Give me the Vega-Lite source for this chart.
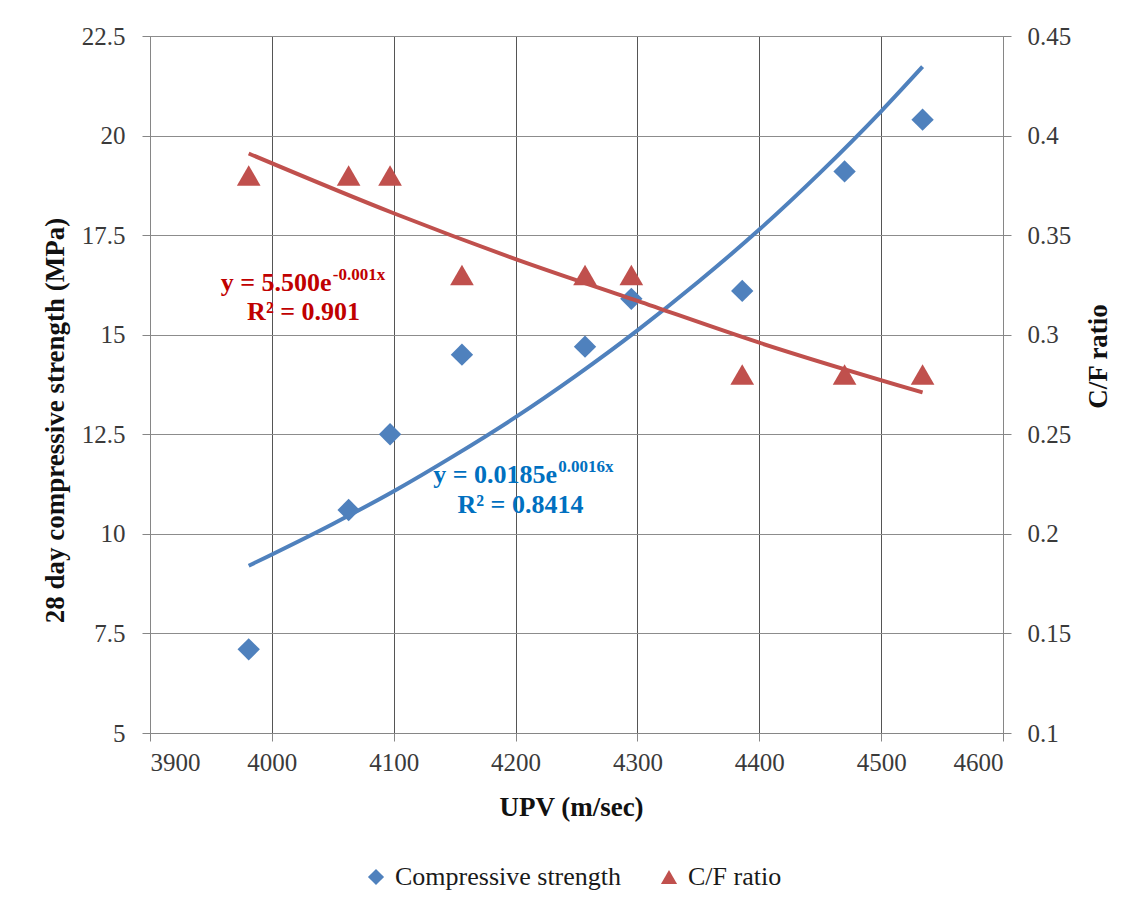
{
  "$schema": "https://vega.github.io/schema/vega-lite/v6.json",
  "autosize": {"type": "none"},
  "width": 853,
  "height": 697,
  "padding": {"left": 150, "top": 36, "right": 134, "bottom": 182},
  "background": "white",
  "config": {
    "view": {"stroke": null},
    "font": "Liberation Serif",
    "axis": {
      "labelFont": "Liberation Serif",
      "labelFontSize": 25,
      "labelColor": "#3a3a3a",
      "titleFont": "Liberation Serif",
      "titleFontSize": 27,
      "titleFontWeight": "bold",
      "titleColor": "#111111",
      "domainColor": "#868686",
      "tickColor": "#868686",
      "tickSize": 8,
      "gridWidth": 1
    },
    "legend": {
      "labelFont": "Liberation Serif",
      "labelFontSize": 26,
      "labelColor": "#1a1a1a",
      "labelLimit": 0
    }
  },
  "datasets": {
    "strength": [
      {"upv": 3981, "value": 7.1, "series": "Compressive strength"},
      {"upv": 4063, "value": 10.6, "series": "Compressive strength"},
      {"upv": 4097, "value": 12.5, "series": "Compressive strength"},
      {"upv": 4156, "value": 14.5, "series": "Compressive strength"},
      {"upv": 4257, "value": 14.7, "series": "Compressive strength"},
      {"upv": 4295, "value": 15.9, "series": "Compressive strength"},
      {"upv": 4386, "value": 16.1, "series": "Compressive strength"},
      {"upv": 4470, "value": 19.1, "series": "Compressive strength"},
      {"upv": 4534, "value": 20.4, "series": "Compressive strength"}
    ],
    "cf": [
      {"upv": 3981, "value": 0.38, "series": "C/F ratio"},
      {"upv": 4063, "value": 0.38, "series": "C/F ratio"},
      {"upv": 4097, "value": 0.38, "series": "C/F ratio"},
      {"upv": 4156, "value": 0.33, "series": "C/F ratio"},
      {"upv": 4257, "value": 0.33, "series": "C/F ratio"},
      {"upv": 4295, "value": 0.33, "series": "C/F ratio"},
      {"upv": 4386, "value": 0.28, "series": "C/F ratio"},
      {"upv": 4470, "value": 0.28, "series": "C/F ratio"},
      {"upv": 4534, "value": 0.28, "series": "C/F ratio"}
    ],
    "strengthTrend": [
      {"upv": 3981, "value": 9.2},
      {"upv": 4050, "value": 10.25},
      {"upv": 4100, "value": 11.07},
      {"upv": 4150, "value": 11.97},
      {"upv": 4200, "value": 12.93},
      {"upv": 4250, "value": 13.98},
      {"upv": 4300, "value": 15.11},
      {"upv": 4350, "value": 16.33},
      {"upv": 4400, "value": 17.64},
      {"upv": 4450, "value": 19.07},
      {"upv": 4500, "value": 20.61},
      {"upv": 4534, "value": 21.73}
    ],
    "cfTrend": [
      {"upv": 3981, "value": 0.391},
      {"upv": 4100, "value": 0.361},
      {"upv": 4200, "value": 0.338},
      {"upv": 4300, "value": 0.317},
      {"upv": 4400, "value": 0.296},
      {"upv": 4534, "value": 0.271}
    ]
  },
  "layer": [
    {
      "layer": [
        {
          "data": {"name": "strength"},
          "mark": {"type": "point", "filled": true, "size": 500, "opacity": 1},
          "encoding": {
            "x": {
              "field": "upv",
              "type": "quantitative",
              "scale": {"domain": [3900, 4600], "nice": false, "zero": false},
              "axis": {
                "title": "UPV (m/sec)",
                "values": [3900, 4000, 4100, 4200, 4300, 4400, 4500, 4600],
                "format": "d",
                "grid": true,
                "gridColor": "#555555",
                "labelFont": "Liberation Serif",
                "labelPadding": 9,
                "titleX": 421,
                "titleY": 74,
                "titleBaseline": "middle",
                "titleAlign": "center"
              }
            },
            "y": {
              "field": "value",
              "type": "quantitative",
              "scale": {"domain": [5, 22.5], "nice": false, "zero": false},
              "axis": {
                "orient": "left",
                "title": "28 day compressive strength (MPa)",
                "values": [5, 7.5, 10, 12.5, 15, 17.5, 20, 22.5],
                "labelExpr": "'' + datum.value",
                "grid": true,
                "gridColor": "#8c8c8c",
                "labelFont": "Liberation Serif",
                "labelPadding": 17,
                "titleAngle": 270,
                "titleX": -95,
                "titleY": 384,
                "titleBaseline": "middle",
                "titleAlign": "center"
              }
            },
            "color": {
              "field": "series",
              "type": "nominal",
              "scale": {"domain": ["Compressive strength", "C/F ratio"], "range": ["#4F81BD", "#C0504D"]},
              "legend": {
                "title": null,
                "orient": "none",
                "direction": "horizontal",
                "legendX": 213,
                "legendY": 828,
                "symbolSize": 260,
                "symbolStrokeWidth": 0,
                "labelOffset": 6,
                "columnPadding": 34,
                "labelFont": "Liberation Serif",
                "labelLimit": 0
              }
            },
            "shape": {
              "field": "series",
              "type": "nominal",
              "scale": {"domain": ["Compressive strength", "C/F ratio"], "range": ["diamond", "triangle-up"]}
            }
          }
        },
        {
          "data": {"name": "strengthTrend"},
          "mark": {"type": "line", "color": "#4F81BD", "strokeWidth": 4, "interpolate": "monotone"},
          "encoding": {
            "x": {"field": "upv", "type": "quantitative"},
            "y": {"field": "value", "type": "quantitative"}
          }
        },
        {
          "data": {"values": [{"label": "y = 5.500e"}]},
          "mark": {"type": "text", "font": "Liberation Serif", "fontWeight": "bold", "fontSize": 26, "color": "#C00000", "align": "right", "baseline": "middle"},
          "encoding": {"x": {"datum": 4049, "type": "quantitative"}, "y": {"datum": 16.3, "type": "quantitative"}, "text": {"field": "label"}}
        },
        {
          "data": {"values": [{"label": "-0.001x"}]},
          "mark": {"type": "text", "font": "Liberation Serif", "fontWeight": "bold", "fontSize": 17, "color": "#C00000", "align": "left", "baseline": "middle"},
          "encoding": {"x": {"datum": 4050, "type": "quantitative"}, "y": {"datum": 16.5, "type": "quantitative"}, "text": {"field": "label"}}
        },
        {
          "data": {"values": [{"label": "R² = 0.901"}]},
          "mark": {"type": "text", "font": "Liberation Serif", "fontWeight": "bold", "fontSize": 26, "color": "#C00000", "align": "center", "baseline": "middle"},
          "encoding": {"x": {"datum": 4026, "type": "quantitative"}, "y": {"datum": 15.57, "type": "quantitative"}, "text": {"field": "label"}}
        },
        {
          "data": {"values": [{"label": "y = 0.0185e"}]},
          "mark": {"type": "text", "font": "Liberation Serif", "fontWeight": "bold", "fontSize": 26, "color": "#0070C0", "align": "right", "baseline": "middle"},
          "encoding": {"x": {"datum": 4234, "type": "quantitative"}, "y": {"datum": 11.48, "type": "quantitative"}, "text": {"field": "label"}}
        },
        {
          "data": {"values": [{"label": "0.0016x"}]},
          "mark": {"type": "text", "font": "Liberation Serif", "fontWeight": "bold", "fontSize": 17, "color": "#0070C0", "align": "left", "baseline": "middle"},
          "encoding": {"x": {"datum": 4235, "type": "quantitative"}, "y": {"datum": 11.68, "type": "quantitative"}, "text": {"field": "label"}}
        },
        {
          "data": {"values": [{"label": "R² = 0.8414"}]},
          "mark": {"type": "text", "font": "Liberation Serif", "fontWeight": "bold", "fontSize": 26, "color": "#0070C0", "align": "center", "baseline": "middle"},
          "encoding": {"x": {"datum": 4204, "type": "quantitative"}, "y": {"datum": 10.72, "type": "quantitative"}, "text": {"field": "label"}}
        }
      ]
    },
    {
      "layer": [
        {
          "data": {"name": "cf"},
          "mark": {"type": "point", "filled": true, "size": 560, "opacity": 1},
          "encoding": {
            "x": {"field": "upv", "type": "quantitative"},
            "y": {
              "field": "value",
              "type": "quantitative",
              "scale": {"domain": [0.1, 0.45], "nice": false, "zero": false},
              "axis": {
                "orient": "right",
                "title": "C/F ratio",
                "values": [0.1, 0.15, 0.2, 0.25, 0.3, 0.35, 0.4, 0.45],
                "labelExpr": "'' + datum.value",
                "grid": false,
                "labelFont": "Liberation Serif",
                "labelPadding": 16,
                "titleAngle": 270,
                "titleX": 95,
                "titleY": 320,
                "titleBaseline": "middle",
                "titleAlign": "center"
              }
            },
            "color": {"field": "series", "type": "nominal"},
            "shape": {"field": "series", "type": "nominal"}
          }
        },
        {
          "data": {"name": "cfTrend"},
          "mark": {"type": "line", "color": "#C0504D", "strokeWidth": 4, "interpolate": "monotone"},
          "encoding": {
            "x": {"field": "upv", "type": "quantitative"},
            "y": {"field": "value", "type": "quantitative"}
          }
        }
      ]
    }
  ],
  "resolve": {"scale": {"y": "independent"}}
}
